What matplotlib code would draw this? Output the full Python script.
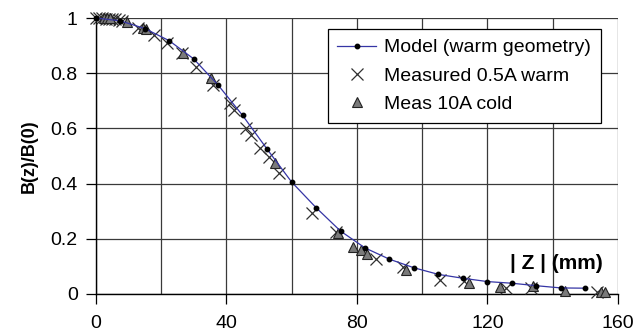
import matplotlib
matplotlib.use("Agg")
import matplotlib.pyplot as plt

plt.rcParams['font.family'] = ['Liberation Sans', 'DejaVu Sans']

# model curve (warm geometry)
z_model = [0, 7.5, 15, 22.5, 30, 37.5, 45, 52.5, 60, 67.5, 75, 82.5, 90, 97.5,
           105, 112.5, 120, 127.5, 135, 142.5, 150]
b_model = [1.0, 0.99, 0.962, 0.918, 0.852, 0.757, 0.647, 0.525, 0.406, 0.313, 0.228,
           0.167, 0.126, 0.095, 0.071, 0.057, 0.045, 0.039, 0.030, 0.022, 0.021]

# measured 0.5A warm
z_warm = [0, 1, 2, 3, 4, 5, 6, 7, 8, 13, 18, 21.7, 26.3, 30.8, 35.8, 41, 42.5, 46.1,
          47.6, 50.2, 53.2, 56.3, 66.3, 73.6, 86, 94, 105.6, 112.8, 125.8, 133.3, 153.5]
b_warm = [1.0, 1.0, 1.0, 0.998, 0.998, 0.996, 0.995, 0.993, 0.99, 0.963, 0.94, 0.91,
          0.872, 0.824, 0.757, 0.692, 0.667, 0.60, 0.576, 0.528, 0.497, 0.437, 0.295,
          0.226, 0.125, 0.098, 0.052, 0.048, 0.022, 0.022, 0.008]

# measured 10A cold
z_cold = [2.5, 3.5, 4.5, 9.5, 14.5, 15.5, 26.7, 35.2, 54.8, 74.1, 78.7, 81.2, 83.2,
          95, 114.3, 124, 134.1, 143.8, 154.8, 156]
b_cold = [1.0, 1.0, 0.999, 0.986, 0.965, 0.962, 0.872, 0.782, 0.474, 0.221, 0.171,
          0.159, 0.145, 0.088, 0.041, 0.024, 0.028, 0.012, 0.006, 0.006]

fig = plt.figure(figsize=(6.39, 3.35), dpi=100)
ax = fig.add_axes([0.1498, 0.1224, 0.8173, 0.8238])

ax.plot(z_model, b_model, color='#3535a5', lw=0.9, marker='o', ms=3.2,
        mfc='black', mec='black', label='Model (warm geometry)', clip_on=False, zorder=4)
ax.plot(z_warm, b_warm, ls='none', marker='x', ms=8, mew=0.9, color='#303030',
        label='Measured 0.5A warm', clip_on=False, zorder=3)
ax.plot(z_cold, b_cold, ls='none', marker='^', ms=6.5, mfc='#7a7a7a', mec='#222222',
        mew=0.8, label='Meas 10A cold', clip_on=False, zorder=3)

ax.set_xlim(0, 160)
ax.set_ylim(0, 1)
ax.set_xticks([0, 40, 80, 120, 160])
ax.set_yticks([0, 0.2, 0.4, 0.6, 0.8, 1])
ax.set_yticklabels(['0', '0.2', '0.4', '0.6', '0.8', '1'])
ax.set_xticks(range(0, 161, 20), minor=True)
ax.grid(True, which='both', color='#3a3a3a', lw=0.9)
ax.tick_params(which='major', direction='out', length=7, width=0.9, labelsize=14, pad=6)
ax.tick_params(axis='x', which='major', pad=8)
ax.tick_params(which='minor', length=0)
for s in ['top', 'right']:
    ax.spines[s].set_visible(False)
for s in ['left', 'bottom']:
    ax.spines[s].set_color('black')
    ax.spines[s].set_linewidth(1.0)

ax.set_ylabel('B(z)/B(0)', fontsize=13, fontweight='bold', labelpad=9)
ax.text(141, 0.112, '| Z | (mm)', fontsize=15, fontweight='bold', ha='center', va='center')

leg = ax.legend(loc='upper right', bbox_to_anchor=(0.940, 0.913),
                bbox_transform=fig.transFigure, fontsize=14, frameon=True,
                fancybox=False, edgecolor='black', framealpha=1,
                handlelength=2.0, handletextpad=0.4, borderpad=0.5,
                labelspacing=0.55, borderaxespad=0)
leg.get_frame().set_linewidth(0.9)

fig.savefig('out.png', dpi=100)
